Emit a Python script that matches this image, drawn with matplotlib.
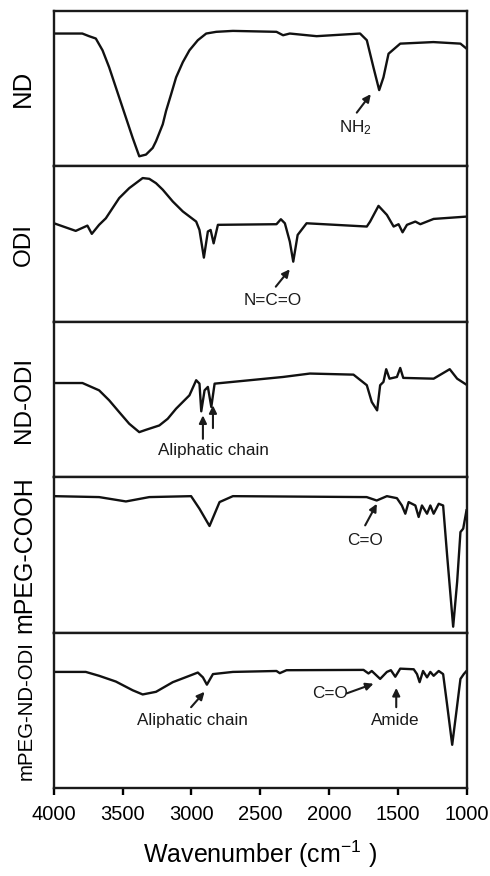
import matplotlib
matplotlib.use("Agg")
import matplotlib.pyplot as plt

plt.rcParams["font.family"] = ["Liberation Sans", "DejaVu Sans"]
plt.rcParams["mathtext.fontset"] = "custom"
plt.rcParams["mathtext.rm"] = "Liberation Sans"
plt.rcParams["mathtext.default"] = "regular"

# FTIR spectra, transmittance in arbitrary units (0-100 inside each panel)
nd_wn = [4000, 3794, 3745, 3696, 3647, 3599, 3538, 3477, 3428, 3380, 3331, 3282, 3258, 3209,
         3185, 3148, 3112, 3063, 3015, 2954, 2893, 2820, 2699, 2382, 2334, 2285, 2090, 1774,
         1725, 1677, 1635, 1604, 1567, 1482, 1241, 1044, 1000]
nd_t = [85.5, 85.5, 83.8, 82.3, 74.7, 63.8, 47.6, 31.4, 18.4, 6.5, 7.6, 11.9, 16.2, 27.1,
        35.7, 46.5, 57.3, 67.1, 74.7, 81.2, 85.5, 86.6, 87.2, 86.6, 84.4, 85.5, 83.8, 85.5,
        81.2, 63.8, 49.1, 57.3, 72.5, 79, 80, 79, 75.8]

odi_wn = [4000, 3842, 3757, 3725, 3672, 3623, 3526, 3453, 3355, 3307, 3258, 3209, 3136, 3063,
          2966, 2942, 2910, 2881, 2861, 2839, 2808, 2382, 2350, 2321, 2285, 2260, 2228, 2163,
          1725, 1701, 1640, 1579, 1530, 1494, 1465, 1433, 1372, 1336, 1239, 1000]
odi_t = [63.4, 58.5, 61.9, 56.6, 62.4, 66.6, 79.6, 86, 92.5, 92, 89.2, 85, 77.4, 71,
         64.5, 59.1, 41.3, 58.1, 59.1, 50.5, 62.4, 62.8, 66, 63.4, 51.6, 38.7, 55.9, 63.4,
         61.3, 64.5, 74.6, 68.8, 61.3, 62.8, 57.6, 62.4, 64.5, 62.8, 66.2, 67.7]

ndodi_wn = [4000, 3793, 3672, 3599, 3526, 3453, 3380, 3331, 3234, 3173, 3112, 3015, 2966, 2942,
            2929, 2905, 2881, 2856, 2832, 2577, 2334, 2139, 1822, 1725, 1689, 1650, 1628, 1604,
            1584, 1560, 1506, 1482, 1460, 1239, 1122, 1068, 1000]
ndodi_t = [60.6, 60.6, 55.9, 49.5, 41.9, 34.4, 29, 30.5, 33.3, 37.6, 44.1, 52.7, 62.4, 60.2,
           42.4, 55.9, 58.1, 45.2, 60.2, 62.4, 64.5, 66.7, 66, 59.2, 48.4, 43, 59.2, 61.3,
           69.5, 63.4, 64.5, 70.3, 63.9, 63.4, 69.5, 63.4, 59.5]

mpeg_wn = [4000, 3672, 3477, 3307, 3003, 2942, 2869, 2796, 2699, 1726, 1653, 1579, 1506, 1470,
           1445, 1421, 1372, 1348, 1324, 1287, 1263, 1239, 1202, 1170, 1141, 1097, 1068, 1044,
           1024, 1000]
mpeg_t = [87.8, 87.2, 84.4, 87.2, 87.8, 79.7, 68.6, 84, 87.8, 87.2, 85, 87.8, 86.5, 81.8,
          76.5, 84, 81.8, 74.4, 81.8, 76.5, 81.8, 76.5, 82.9, 81.8, 49.8, 3.8, 32.7, 64.7,
          66.9, 78.7]

mpegnd_wn = [4000, 3769, 3672, 3550, 3428, 3355, 3258, 3136, 3015, 2954, 2917, 2888, 2844, 2699,
             2382, 2358, 2309, 1749, 1713, 1689, 1628, 1579, 1550, 1518, 1482, 1384, 1360, 1341,
             1316, 1287, 1263, 1239, 1202, 1170, 1141, 1104, 1073, 1044, 1020, 1000]
mpegnd_t = [74.7, 74.7, 72.2, 68.5, 62.9, 60.2, 61.9, 68.1, 72.2, 74.3, 71.2, 66.5, 73.3, 74.7,
            75.3, 73.9, 75.8, 76, 73.7, 75.3, 70.2, 74.7, 75.8, 71.6, 76.8, 76.4, 73.3, 68.1,
            75.3, 71.2, 74.7, 72.2, 75.3, 73.3, 53.6, 27.8, 49.5, 70.2, 73.3, 75.3]

names = ["ND", "ODI", "ND-ODI", "mPEG-COOH", "mPEG-ND-ODI"]
spectra = [(nd_wn, nd_t), (odi_wn, odi_t), (ndodi_wn, ndodi_t), (mpeg_wn, mpeg_t), (mpegnd_wn, mpegnd_t)]

# (panel, text, text position, list of arrows (tail, head))
annotations = [
    (0, "NH$_2$", (1810, 24.9), [((1798, 34.6), (1696, 46.5))]),
    (1, "N=C=O", (2406, 14), [((2387, 22.6), (2285, 33.8))]),
    (2, "Aliphatic chain", (2844, 17.2), [((2917, 24.7), (2917, 39.8)), ((2844, 31.6), (2844, 46.3))]),
    (3, "C=O", (1737, 59.4), [((1737, 69), (1652, 82.9))]),
    (4, "Aliphatic chain", (2990, 43.7), [((3003, 52), (2905, 61.9))]),
    (4, "C=O", (1993, 60.9), [((1871, 60.9), (1676, 67.1))]),
    (4, "Amide", (1518, 43.7), [((1511, 52), (1511, 64.4))]),
]

W, H = 490, 876
fig, axes = plt.subplots(5, 1, figsize=(W / 100, H / 100), dpi=100, sharex=True)
fig.subplots_adjust(left=54 / W, right=466.5 / W, top=1 - 11 / H, bottom=1 - 788 / H, hspace=0)

label_x = [23, 24, 24, 24, 26]
label_size = [18.5, 17.5, 17.5, 18, 14.7]

for i, (ax, (wn, t)) in enumerate(zip(axes, spectra)):
    ax.plot(wn, t, color="#111111", lw=1.7, solid_joinstyle="round")
    ax.set_xlim(4000, 1000)
    ax.set_ylim(0, 100)
    ax.set_yticks([])
    for spine in ax.spines.values():
        spine.set_linewidth(1.7)
        spine.set_color("#1a1a1a")
    if i < 4:
        ax.tick_params(axis="x", bottom=False, labelbottom=False)
    pos = ax.get_position()
    fig.text(label_x[i] / W, (pos.y0 + pos.y1) / 2, names[i], rotation=90,
             ha="center", va="center", fontsize=label_size[i])

for panel, text, tpos, arrows in annotations:
    ax = axes[panel]
    ax.text(tpos[0], tpos[1], text, ha="center", va="center", fontsize=12.3, color="#1a1a1a")
    for tail, head in arrows:
        ax.annotate("", xy=head, xytext=tail,
                    arrowprops=dict(arrowstyle="-|>,head_length=0.45,head_width=0.22",
                                    color="#1a1a1a", lw=1.5, shrinkA=0, shrinkB=0))

bottom = axes[-1]
bottom.set_xticks([4000, 3500, 3000, 2500, 2000, 1500, 1000])
bottom.tick_params(axis="x", direction="out", length=5, width=1.7, labelsize=14.5, pad=7)
bottom.set_xlabel("Wavenumber (cm$^{-1}$ )", fontsize=18, labelpad=11)

fig.savefig("out.png", dpi=100)
